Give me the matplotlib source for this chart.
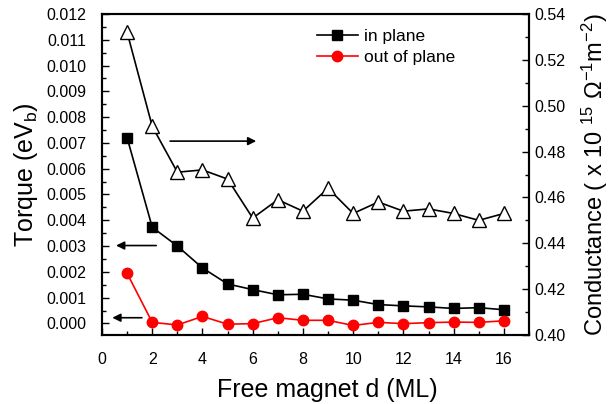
import matplotlib
matplotlib.use("Agg")
import matplotlib.pyplot as plt
from matplotlib.ticker import MultipleLocator, FormatStrFormatter

plt.rcParams['font.family'] = ['Liberation Sans', 'DejaVu Sans']
plt.rcParams['mathtext.fontset'] = 'custom'
plt.rcParams['mathtext.rm'] = 'Liberation Sans'
plt.rcParams['mathtext.it'] = 'Liberation Sans'

thickness = list(range(1, 17))
torque_in_plane = [0.0072, 0.00373, 0.0030, 0.00215, 0.00153, 0.00131, 0.00111, 0.00113,
                   0.00095, 0.00090, 0.00073, 0.00068, 0.00064, 0.00058, 0.00061, 0.00053]
torque_out_plane = [0.00194, 0.00004, -0.00006, 0.00027, -0.00003, -0.00001, 0.00022, 0.00012,
                    0.00012, -0.00008, 0.00004, -0.00001, 0.00003, 0.00005, 0.00004, 0.00010]
conductance = [0.532, 0.491, 0.471, 0.472, 0.468, 0.451, 0.459, 0.454,
               0.464, 0.453, 0.458, 0.454, 0.455, 0.453, 0.450, 0.453]

fig = plt.figure(figsize=(6.10, 4.04), dpi=100)
ax = fig.add_axes([102/610, 1-335/404, 427/610, 321/404])
ax2 = ax.twinx()

ax.plot(thickness, torque_in_plane, '-s', color='black', lw=1.2, ms=6.5,
        label='in plane')
ax.plot(thickness, torque_out_plane, '-o', color='red', lw=1.2, ms=7.5,
        label='out of plane')
ax2.plot(thickness, conductance, '-^', color='black', mfc='white', mec='black',
         lw=1.2, ms=9.5, mew=1.0)

ax.set_xlim(0, 17)
ax.set_ylim(-0.00045, 0.012)
ax2.set_ylim(0.40, 0.54)

ax.xaxis.set_major_locator(MultipleLocator(2))
ax.xaxis.set_minor_locator(MultipleLocator(1))
ax.yaxis.set_major_locator(MultipleLocator(0.001))
ax.yaxis.set_minor_locator(MultipleLocator(0.0005))
ax.yaxis.set_major_formatter(FormatStrFormatter('%.3f'))
ax2.yaxis.set_major_locator(MultipleLocator(0.02))
ax2.yaxis.set_minor_locator(MultipleLocator(0.01))
ax2.yaxis.set_major_formatter(FormatStrFormatter('%.2f'))

for a in (ax, ax2):
    a.tick_params(which='both', direction='in', labelsize=11.5, width=1.0)
    a.tick_params(which='major', length=5)
    a.tick_params(which='minor', length=3)
    for s in a.spines.values():
        s.set_linewidth(1.5)
ax.tick_params(top=False, right=False, which='both')
ax.tick_params(axis='y', which='major', pad=11)
ax.tick_params(axis='x', which='major', pad=12)
ax2.tick_params(left=False, which='both')
ax2.tick_params(axis='y', which='major', pad=4)

ax.set_xlabel('Free magnet d (ML)', fontsize=18, labelpad=6)
ax.xaxis.set_label_coords(0.527, -0.135)
ax.set_ylabel(r'Torque (eV$_{\mathrm{b}}$)', fontsize=18, labelpad=5)
ax2.set_ylabel(r'Conductance ( x 10 $^{15}$ $\Omega^{-1}$m$^{-2}$)', fontsize=17, labelpad=10)

arrow = dict(arrowstyle='-|>', color='black', lw=1.2, mutation_scale=12)
ax.annotate('', xy=(6.25, 0.00707), xytext=(2.6, 0.00707), arrowprops=arrow)
ax.annotate('', xy=(0.45, 0.00302), xytext=(2.27, 0.00302), arrowprops=arrow)
ax.annotate('', xy=(0.3, 0.00022), xytext=(1.7, 0.00022), arrowprops=arrow)

ax.legend(loc='upper left', bbox_to_anchor=(0.503, 0.955), frameon=False,
          borderpad=0, borderaxespad=0,
          fontsize=12.5, handlelength=2.35, handletextpad=0.35, labelspacing=0.35)

fig.savefig('out.png', dpi=100)
